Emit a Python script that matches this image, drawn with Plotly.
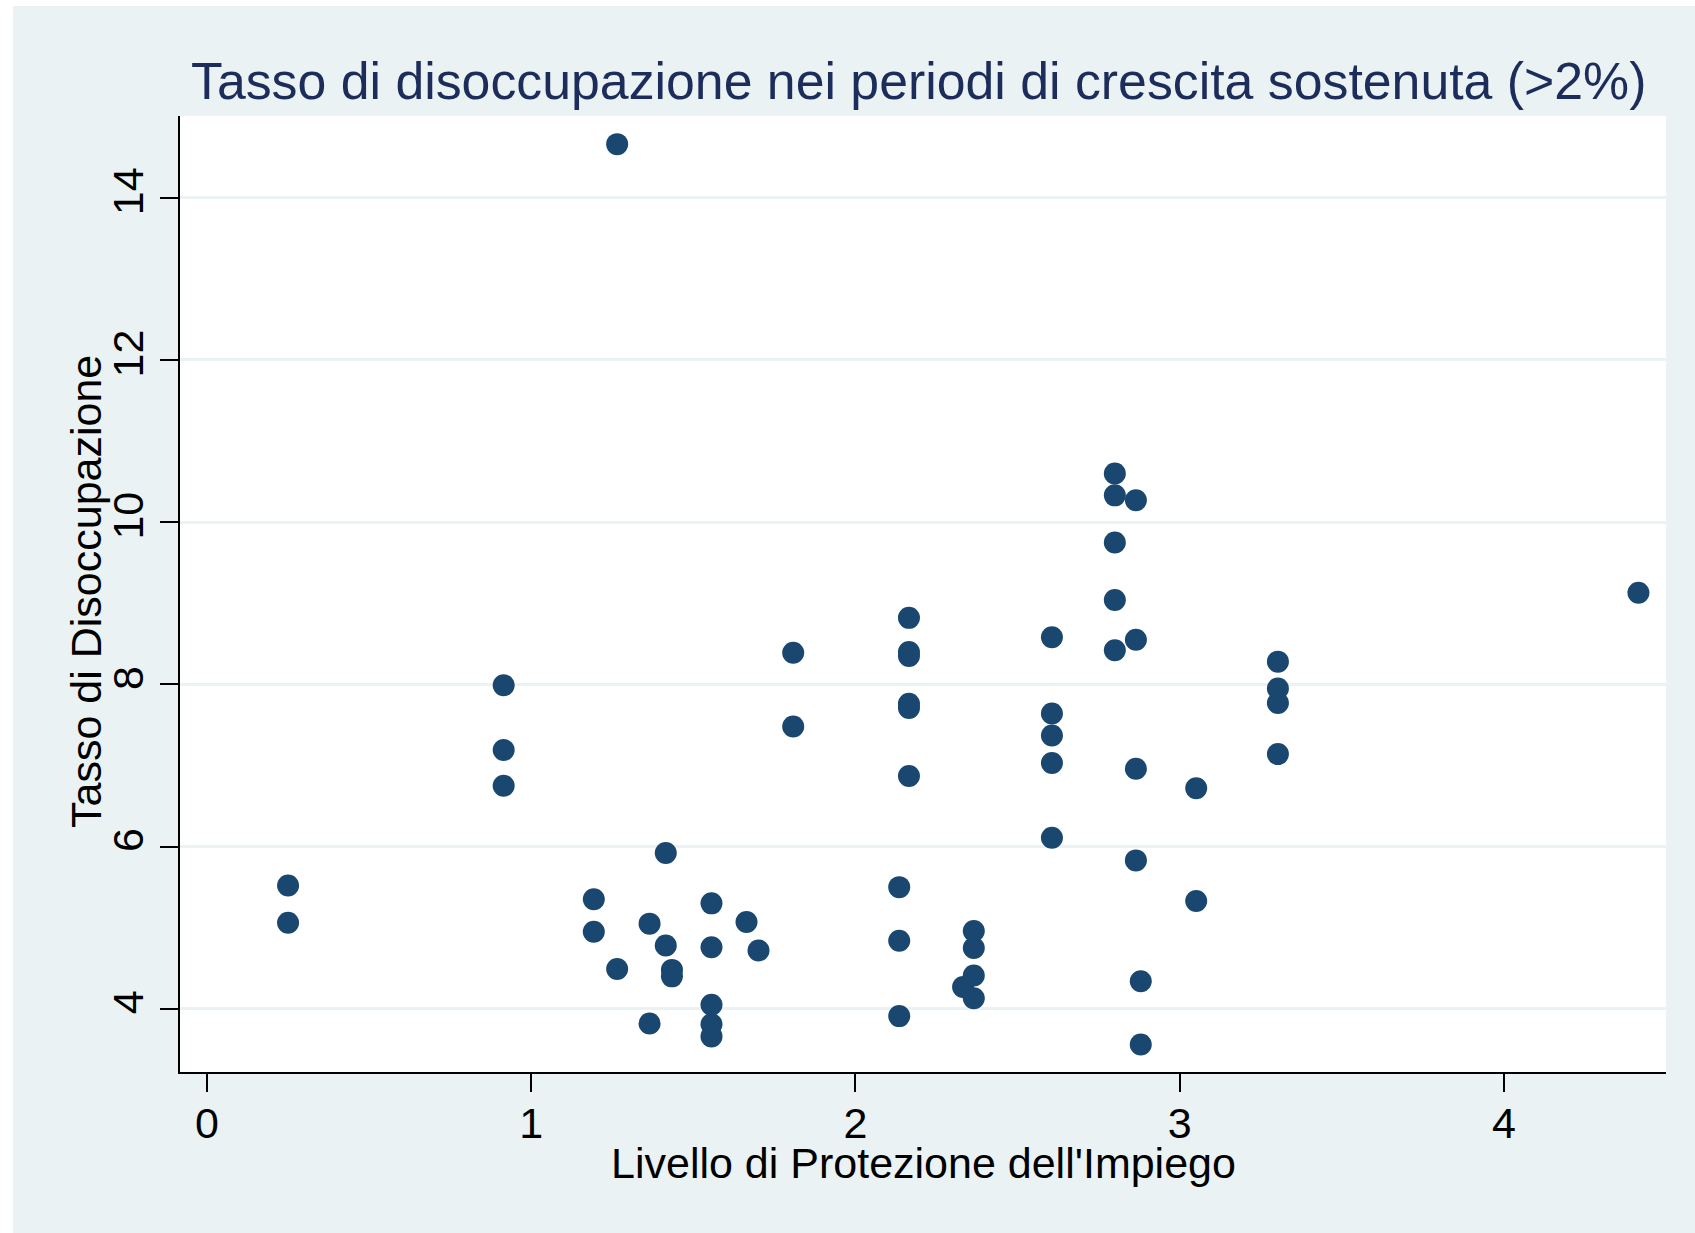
import plotly.graph_objects as go

# Data
epl = [0.25, 0.25,
       0.915, 0.915, 0.915,
       1.265, 1.193, 1.193, 1.265,
       1.365, 1.365, 1.415, 1.415, 1.434, 1.434,
       1.556, 1.556, 1.556, 1.556, 1.556,
       1.664, 1.701,
       1.808, 1.808,
       2.165, 2.165, 2.165, 2.165, 2.165, 2.165,
       2.135, 2.135, 2.135,
       2.332, 2.365, 2.365, 2.365, 2.365,
       2.606, 2.606, 2.606, 2.606, 2.606,
       2.800, 2.800, 2.800, 2.800, 2.800,
       2.865, 2.865, 2.865, 2.865,
       2.880, 2.880,
       3.051, 3.051,
       3.303, 3.303, 3.303, 3.303,
       4.415]
unemp = [5.52, 5.06,
         7.99, 7.19, 6.75,
         14.66, 5.35, 4.95, 4.49,
         5.05, 3.82, 5.92, 4.78, 4.48, 4.40,
         5.30, 4.76, 4.05, 3.81, 3.66,
         5.07, 4.72,
         8.39, 7.48,
         8.82, 8.40, 8.35, 7.76, 7.71, 6.87,
         5.50, 4.84, 3.91,
         4.27, 4.96, 4.75, 4.41, 4.13,
         8.58, 7.64, 7.37, 7.03, 6.11,
         10.60, 10.33, 9.75, 9.04, 8.42,
         10.27, 8.55, 6.96, 5.83,
         4.34, 3.56,
         6.72, 5.33,
         8.28, 7.95, 7.77, 7.14,
         9.13]

x_ticks = [0, 1, 2, 3, 4]
y_ticks = [4, 6, 8, 10, 12, 14]

title_text = "Tasso di disoccupazione nei periodi di crescita sostenuta (>2%)"
x_title = "Livello di Protezione dell'Impiego"
y_title = "Tasso di Disoccupazione"

W, H = 1695, 1233
L, R, T, B = 180, 1666, 116, 1072
pw, ph = R - L, B - T

def px(xp):
    return (xp - L) / pw

def py(yp):
    return (B - yp) / ph

FONT = "Liberation Sans, Arial, Helvetica, sans-serif"
NAVY = "#1A476F"
BG = "#EAF2F3"

fig = go.Figure()
fig.add_trace(go.Scatter(
    x=epl, y=unemp, mode="markers",
    marker=dict(size=22, color=NAVY, line=dict(width=0)),
    showlegend=False, hoverinfo="x+y"))

fig.update_layout(
    width=W, height=H,
    margin=dict(l=L, r=W - R, t=T, b=H - B, pad=0),
    paper_bgcolor=BG, plot_bgcolor="white",
    font=dict(family=FONT, size=43, color="black"),
    showlegend=False,
    xaxis=dict(range=[-0.0833, 4.5], tickvals=x_ticks, ticktext=[str(v) for v in x_ticks],
               showgrid=False, zeroline=False, showline=True, linecolor="black", linewidth=2,
               ticks="outside", ticklen=18, tickwidth=1.5, tickcolor="black",
               tickfont=dict(size=43, family=FONT, color="black")),
    yaxis=dict(range=[3.221, 15.007], tickvals=y_ticks, ticktext=[str(v) for v in y_ticks],
               showgrid=True, gridcolor=BG, gridwidth=3, zeroline=False,
               showline=True, linecolor="black", linewidth=2,
               ticks="outside", ticklen=18, tickwidth=1.5, tickcolor="black",
               tickangle=-90,
               tickfont=dict(size=43, family=FONT, color="black")),
    annotations=[
        dict(text=title_text, xref="paper", yref="paper", x=px(918), y=py(81),
             xanchor="center", yanchor="middle", showarrow=False,
             font=dict(size=51.8, family=FONT, color="#1C2D5B")),
        dict(text=x_title, xref="paper", yref="paper", x=0.5, y=py(1163),
             xanchor="center", yanchor="middle", showarrow=False,
             font=dict(size=43, family=FONT, color="black")),
        dict(text=y_title, xref="paper", yref="paper", x=px(86), y=py(592),
             xanchor="center", yanchor="middle", showarrow=False, textangle=-90,
             font=dict(size=43, family=FONT, color="black")),
    ],
    shapes=[
        dict(type="rect", xref="paper", yref="paper", x0=px(0), x1=px(13), y0=py(H), y1=py(0),
             fillcolor="white", line=dict(width=0), layer="above"),
        dict(type="rect", xref="paper", yref="paper", x0=px(0), x1=px(W), y0=py(6), y1=py(0),
             fillcolor="white", line=dict(width=0), layer="above"),
    ],
)

try:
    fig.update_xaxes(ticklabelstandoff=-6)
except (ValueError, TypeError):
    pass

fig.write_html(
    "out.html",
    config={"displayModeBar": False},
    post_script="document.body.style.margin='0';document.body.style.padding='0';"
                "document.body.style.overflow='hidden';",
)
